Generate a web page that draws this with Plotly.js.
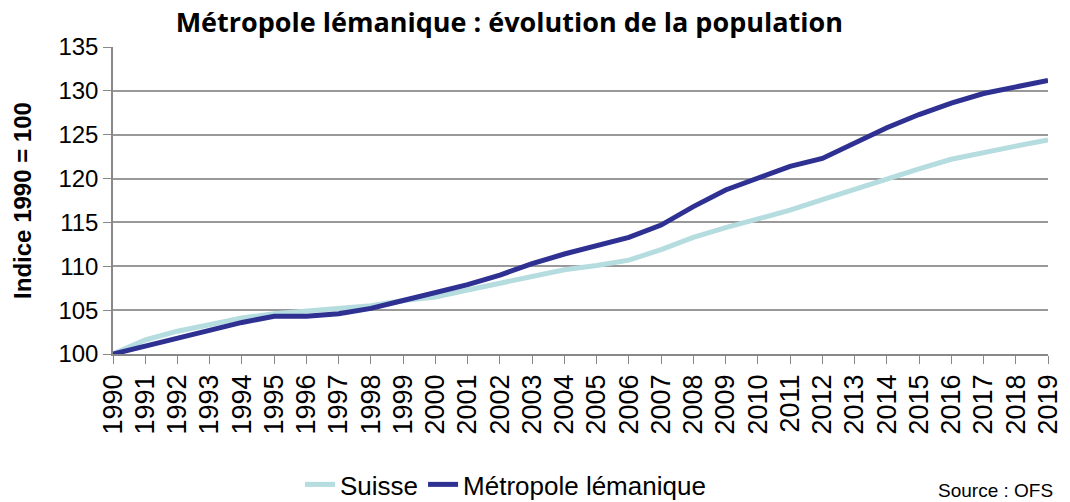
<!DOCTYPE html>
<html>
<head>
<meta charset="utf-8">
<script src="https://cdn.plot.ly/plotly-3.0.1.min.js"></script>
<style>
  body { margin: 0; background: #fff; }
  #chart { width: 1070px; height: 502px; }
</style>
</head>
<body>
<div id="chart"></div>
<script>
// years and index values (1990 = 100)
var years = [1990, 1991, 1992, 1993, 1994, 1995, 1996, 1997, 1998, 1999,
             2000, 2001, 2002, 2003, 2004, 2005, 2006, 2007, 2008, 2009,
             2010, 2011, 2012, 2013, 2014, 2015, 2016, 2017, 2018, 2019];

var suisse = [100, 101.6, 102.6, 103.4, 104.1, 104.6, 104.9, 105.2, 105.5, 106.1,
              106.5, 107.3, 108.1, 108.9, 109.6, 110.1, 110.7, 111.9, 113.3, 114.4,
              115.4, 116.4, 117.6, 118.8, 120.0, 121.1, 122.2, 123.0, 123.7, 124.4];

var metropole = [100, 100.9, 101.9, 102.7, 103.6, 104.3, 104.3, 104.6, 105.2, 106.1,
                 107.0, 107.9, 109.0, 110.3, 111.4, 112.3, 113.3, 114.7, 116.8, 118.7,
                 120.1, 121.4, 122.3, 124.1, 125.8, 127.3, 128.6, 129.7, 130.5, 131.2];

var trace1 = {
    x: years,
    y: suisse,
    name: "Suisse",
    type: "scatter",
    mode: "lines",
    line: { color: "#b5dcdf", width: 5 }
};

var trace2 = {
    x: years,
    y: metropole,
    name: "Métropole lémanique",
    type: "scatter",
    mode: "lines",
    line: { color: "#2e3192", width: 5 }
};

var data = [trace1, trace2];

var layout = {
    width: 1070,
    height: 502,
    margin: { l: 113, r: 22, t: 47, b: 148, autoexpand: false },
    paper_bgcolor: "#fff",
    plot_bgcolor: "#fff",
    font: { family: "Arial, 'Liberation Sans', sans-serif", color: "#000", size: 20 },
    title: {
        text: "<b>Métropole lémanique : évolution de la population</b>",
        font: { family: "'Open Sans', sans-serif", size: 27, color: "#000" },
        x: 0.476, xanchor: "center",
        y: 0.955, yanchor: "middle"
    },
    xaxis: {
        range: [1990, 2019],
        dtick: 1,
        tick0: 1990,
        tickangle: -90,
        tickfont: { size: 27 },
        ticks: "outside",
        ticklen: 8,
        tickcolor: "#888",
        showline: true,
        linecolor: "#888",
        linewidth: 1.5,
        showgrid: false,
        zeroline: false,
        automargin: false
    },
    yaxis: {
        range: [100, 135],
        dtick: 5,
        tickfont: { size: 24 },
        ticks: "outside",
        ticklen: 8,
        tickcolor: "#888",
        showline: true,
        linecolor: "#888",
        linewidth: 1.5,
        gridcolor: "#999",
        gridwidth: 1.5,
        zeroline: false,
        automargin: false,
        title: { text: "<b>Indice 1990 = 100</b>", font: { size: 24 }, standoff: 20 }
    },
    legend: {
        orientation: "h",
        x: 0.2, xanchor: "left",
        y: -0.425, yanchor: "middle",
        font: { size: 26 },
        bgcolor: "rgba(0,0,0,0)"
    },
    annotations: [{
        text: "Source : OFS",
        xref: "paper", yref: "paper",
        x: 1.0075, xanchor: "right",
        y: -0.443, yanchor: "middle",
        showarrow: false,
        font: { size: 19 }
    }]
};

var config = { responsive: false, displayModeBar: false };

Plotly.newPlot("chart", data, layout, config);
</script>
</body>
</html>
